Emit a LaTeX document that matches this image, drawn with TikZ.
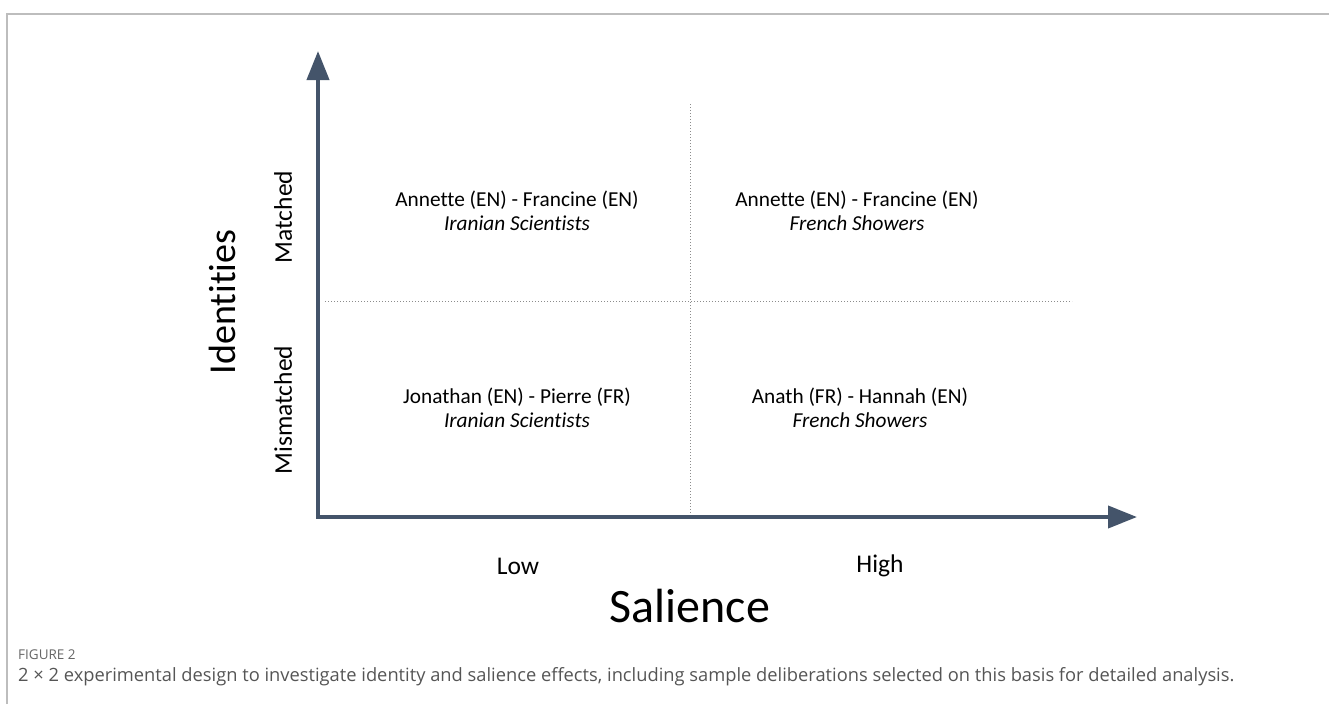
\documentclass[tikz,border=0pt]{standalone}
\usepackage{fontspec}
\setmainfont{Carlito}[Ligatures={NoCommon,TeX}]
\newfontfamily\capfont{Open Sans}[Ligatures={NoCommon,TeX}]
\usetikzlibrary{arrows.meta}
\definecolor{axiscol}{HTML}{44546A}
\definecolor{framecol}{HTML}{BDBDBD}
\definecolor{dotcol}{HTML}{8C8C8C}
\definecolor{captxt}{HTML}{555555}
\definecolor{figlab}{HTML}{666666}
\tikzset{
  axisline/.style={draw=axiscol, line width=4pt, line join=miter,
    {Triangle[length=29pt,width=22pt]}-{Triangle[length=29pt,width=22pt]}},
  gridline/.style={draw=dotcol, line width=1pt, dash pattern=on 1pt off 2pt},
  frameline/.style={draw=framecol, line width=2pt},
  celltext/.style={font=\fontsize{21.3}{24}\selectfont, text=black, inner sep=0pt, align=center},
  axislabel/.style={font=\fontsize{25.5}{28}\selectfont, text=black, inner sep=0pt},
  bigaxis/.style={font=\fontsize{38}{42}\selectfont, text=black, inner sep=0pt},
}
\begin{document}
\begin{tikzpicture}[x=1pt,y=-1pt]
\useasboundingbox (0,0) rectangle (1329,704);
% frame
\coordinate (fb) at (7,704);
\coordinate (fc) at (7,14);
\coordinate (fr) at (1329,14);
\draw[frameline] (fb) -- (fc) -- (fr);
% grid lines
\coordinate (hl) at (325,301);
\coordinate (hr) at (1072,301);
\coordinate (vt) at (690,104);
\coordinate (vb) at (690,515);
\draw[gridline] (hl) -- (hr);
\draw[gridline] (vt) -- (vb);
% axes
\coordinate (ytip) at (318,51);
\coordinate (orig) at (318,517);
\coordinate (xtip) at (1137,517);
\draw[axisline] (ytip) -- (orig) -- (xtip);
% cells
\node[celltext] (tl) at (517,211) {Annette (EN) - Francine (EN)\\\textit{Iranian Scientists}};
\node[celltext] (tr) at (857,211) {Annette (EN) - Francine (EN)\\\textit{French Showers}};
\node[celltext] (bl) at (517,408) {Jonathan (EN) - Pierre (FR)\\\textit{Iranian Scientists}};
\node[celltext] (br) at (860,408) {Anath (FR) - Hannah (EN)\\\textit{French Showers}};
% axis labels
\node[axislabel] (low) at (518,566) {Low};
\node[axislabel] (high) at (880,566) {High};
\node[bigaxis, font=\fontsize{48}{52}\selectfont] (sal) at (690,606) {Salience};
\node[bigaxis, rotate=90] (ident) at (222,302) {Identities};
\node[axislabel, rotate=90] (match) at (283,217) {Matched};
\node[axislabel, rotate=90] (mism) at (283,410) {Mismatched};
% caption
\node[anchor=west, inner sep=0pt, font=\capfont\fontsize{13.5}{15}\selectfont, text=figlab] (figno) at (18,655) {FIGURE 2};
\node[anchor=west, inner sep=0pt, font=\capfont\fontsize{18.3}{20}\selectfont, text=captxt] (cap) at (18,677) {2 × 2 experimental design to investigate identity and salience effects, including sample deliberations selected on this basis for detailed analysis.};
\end{tikzpicture}
\end{document}
